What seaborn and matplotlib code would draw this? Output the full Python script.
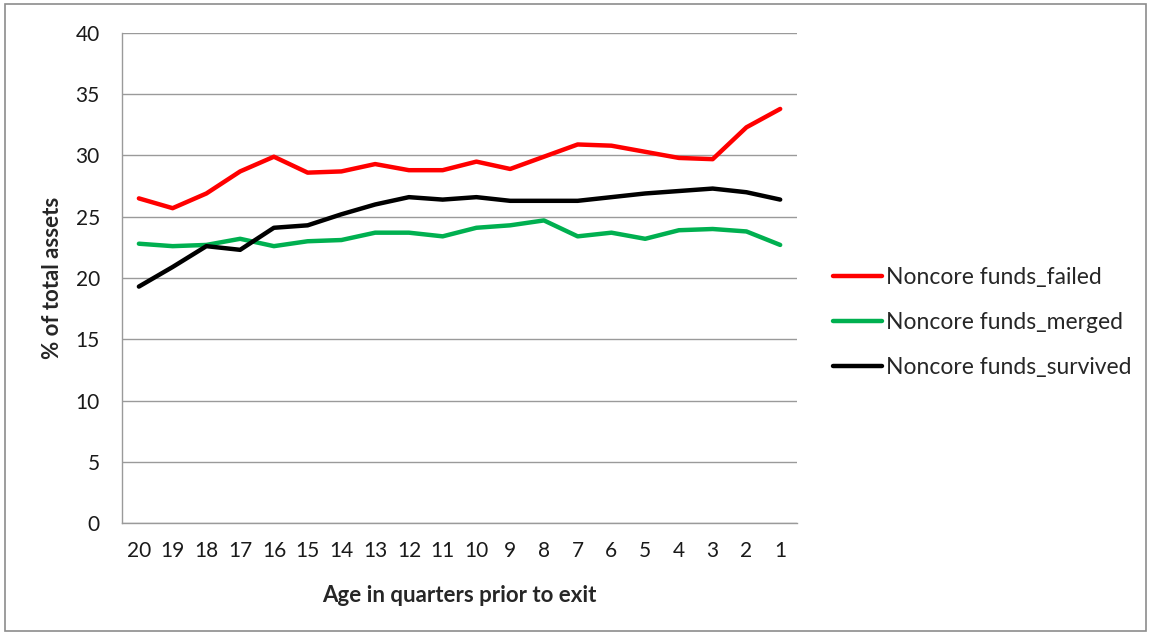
import matplotlib
matplotlib.use("Agg")
import matplotlib.pyplot as plt
import seaborn as sns
import pandas as pd
from matplotlib.patches import Rectangle

# Quarters before exit, plotted oldest to most recent
quarters = ["20", "19", "18", "17", "16", "15", "14", "13", "12", "11",
            "10", "9", "8", "7", "6", "5", "4", "3", "2", "1"]

failed = [26.5, 25.7, 26.9, 28.7, 29.9, 28.6, 28.7, 29.3, 28.8, 28.8,
          29.5, 28.9, 29.9, 30.9, 30.8, 30.3, 29.8, 29.7, 32.3, 33.8]
merged = [22.8, 22.6, 22.7, 23.2, 22.6, 23.0, 23.1, 23.7, 23.7, 23.4,
          24.1, 24.3, 24.7, 23.4, 23.7, 23.2, 23.9, 24.0, 23.8, 22.7]
survived = [19.3, 20.9, 22.6, 22.3, 24.1, 24.3, 25.2, 26.0, 26.6, 26.4,
            26.6, 26.3, 26.3, 26.3, 26.6, 26.9, 27.1, 27.3, 27.0, 26.4]

series_names = ["Noncore funds_failed", "Noncore funds_merged", "Noncore funds_survived"]
series_colors = ["#FF0000", "#00B050", "#000000"]

frames = []
for name, vals in zip(series_names, [failed, merged, survived]):
    frames.append(pd.DataFrame({"quarter": quarters, "value": vals, "series": name}))
df = pd.concat(frames, ignore_index=True)

sns.set_style("white")
plt.rcParams["font.family"] = ["Lato", "DejaVu Sans"]

fig = plt.figure(figsize=(11.51, 6.34), dpi=100)
ax = fig.add_axes([0.106, 0.175, 0.5865, 0.773])

sns.lineplot(data=df, x="quarter", y="value", hue="series",
             palette=dict(zip(series_names, series_colors)),
             linewidth=3.2, ax=ax, sort=False, legend=True)

ax.set_xlim(-0.5, len(quarters) - 0.5)
ax.set_ylim(0, 40)
ax.set_yticks(range(0, 41, 5))
ax.yaxis.grid(True, color="#9a9a9a", linewidth=1.0)
ax.xaxis.grid(False)
ax.set_axisbelow(True)

for side in ["top", "right"]:
    ax.spines[side].set_visible(False)
for side in ["left", "bottom"]:
    ax.spines[side].set_color("#9a9a9a")
    ax.spines[side].set_linewidth(1.0)

ax.tick_params(axis="y", length=0, pad=16, labelsize=15, labelcolor="#1a1a1a")
ax.tick_params(axis="x", length=0, pad=13, labelsize=15, labelcolor="#1a1a1a")

ax.set_xlabel("Age in quarters prior to exit", fontsize=16, fontweight="bold",
              labelpad=17)
ax.set_ylabel("% of total assets", fontsize=16, fontweight="bold", labelpad=9)

leg = ax.legend(loc="center left", bbox_to_anchor=(1.053, 0.41), frameon=False,
                fontsize=16.5, handlelength=2.15, handletextpad=0.17,
                labelspacing=1.05, borderpad=0, borderaxespad=0)
for line in leg.get_lines():
    line.set_linewidth(3.2)

# Outer chart frame
fig.patches.append(Rectangle((0.004, 0.004), 0.992, 0.99, transform=fig.transFigure,
                             fill=False, edgecolor="#8c8c8c", linewidth=1.2))

fig.savefig("out.png", dpi=100)
